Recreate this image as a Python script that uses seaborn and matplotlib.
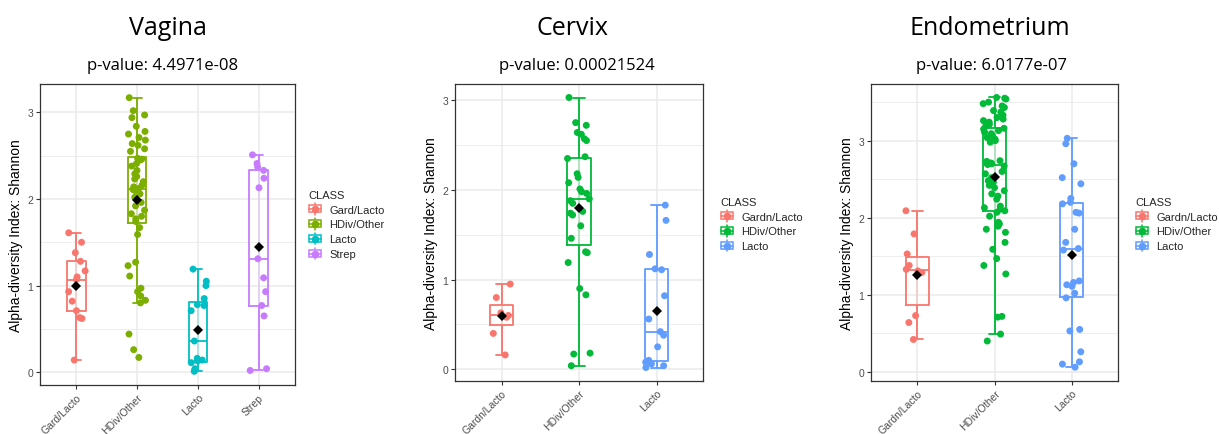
import numpy as np
import pandas as pd
import seaborn as sns
import matplotlib.pyplot as plt
from matplotlib import cbook
from matplotlib.lines import Line2D
from matplotlib.patches import Rectangle
from matplotlib.legend_handler import HandlerBase
from matplotlib.ticker import MultipleLocator

# ---------------- data ----------------
vagina_classes = ["Gard/Lacto", "HDiv/Other", "Lacto", "Strep"]
vagina_gard_lacto = [1.61, 1.50, 1.38, 1.28, 1.17, 1.10, 1.07, 0.93, 0.82, 0.71, 0.63, 0.62, 0.14]
vagina_hdiv_other = [3.17, 3.02, 2.97, 2.94, 2.84, 2.78, 2.75, 2.71, 2.68, 2.64, 2.62, 2.58, 2.55,
                     2.47, 2.46, 2.45, 2.41, 2.38, 2.33, 2.29, 2.26, 2.23, 2.20, 2.16, 2.14, 2.12,
                     2.11, 2.10, 2.10, 2.06, 2.02, 2.00, 1.96, 1.92, 1.87, 1.83, 1.80, 1.77, 1.74,
                     1.67, 1.59, 1.27, 1.23, 1.11, 0.97, 0.93, 0.88, 0.83, 0.80, 0.44, 0.26, 0.17]
vagina_lacto = [1.19, 1.05, 1.00, 0.85, 0.78, 0.77, 0.71, 0.36, 0.16, 0.14, 0.13, 0.11, 0.04, 0.02, 0.01]
vagina_strep = [2.51, 2.41, 2.37, 2.33, 2.24, 2.13, 1.31, 1.09, 0.93, 0.77, 0.65, 0.04, 0.02]
vagina_pvalue = "4.4971e-08"

cervix_classes = ["Gardn/Lacto", "HDiv/Other", "Lacto"]
cervix_gardn_lacto = [0.95, 0.80, 0.63, 0.60, 0.58, 0.40, 0.16]
cervix_hdiv_other = [3.03, 2.75, 2.72, 2.64, 2.62, 2.57, 2.55, 2.37, 2.35, 2.18, 2.14, 2.08, 2.01,
                     1.98, 1.96, 1.90, 1.88, 1.85, 1.76, 1.74, 1.72, 1.60, 1.46, 1.31, 1.30, 1.19,
                     0.90, 0.83, 0.18, 0.17, 0.04]
cervix_lacto = [1.83, 1.66, 1.28, 1.12, 1.11, 0.82, 0.56, 0.42, 0.38, 0.25, 0.10, 0.08, 0.06, 0.04, 0.02]
cervix_pvalue = "0.00021524"

endo_classes = ["Gardn/Lacto", "HDiv/Other", "Lacto"]
endo_gardn_lacto = [2.09, 1.79, 1.53, 1.38, 1.33, 1.31, 1.29, 0.73, 0.64, 0.42]
endo_hdiv_other = [3.56, 3.55, 3.54, 3.50, 3.48, 3.45, 3.43, 3.39, 3.37, 3.33, 3.30, 3.28, 3.26,
                   3.24, 3.21, 3.19, 3.16, 3.15, 3.13, 3.11, 3.09, 3.06, 3.04, 3.02, 3.00, 2.98,
                   2.74, 2.73, 2.72, 2.71, 2.70, 2.69, 2.67, 2.60, 2.57, 2.52, 2.48, 2.46, 2.42,
                   2.39, 2.35, 2.31, 2.28, 2.24, 2.15, 2.13, 2.11, 2.09, 2.07, 2.02, 1.94, 1.92,
                   1.89, 1.85, 1.81, 1.68, 1.59, 1.47, 1.38, 1.27, 0.72, 0.71, 0.49, 0.40]
endo_lacto = [3.03, 2.96, 2.70, 2.52, 2.44, 2.25, 2.20, 2.18, 2.07, 2.06, 1.85, 1.68, 1.60, 1.58,
              1.18, 1.16, 1.13, 1.11, 1.02, 0.96, 0.55, 0.53, 0.26, 0.13, 0.10, 0.06]
endo_pvalue = "6.0177e-07"

hue4 = ["#F8766D", "#7CAE00", "#00BFC4", "#C77CFF"]
hue3 = ["#F8766D", "#00BA38", "#619CFF"]

# ---------------- styling ----------------
sns.set_style("white")
plt.rcParams["font.family"] = ["Liberation Sans", "DejaVu Sans"]

W, H = 1219, 435
fig = plt.figure(figsize=(W / 100, H / 100), dpi=100)


def fig_rect(left, top, right, bottom):
    return [left / W, 1 - bottom / H, (right - left) / W, (bottom - top) / H]


class BoxKey(HandlerBase):
    """Legend key drawn as a miniature boxplot with a jitter point."""

    def create_artists(self, legend, orig_handle, xdescent, ydescent,
                       width, height, fontsize, trans):
        c = orig_handle.get_color()
        x0, y0 = -xdescent, -ydescent
        cx, cy = x0 + width / 2, y0 + height / 2
        bw, bh = width * 0.8, height * 0.6
        stem = Line2D([cx, cx], [y0 + 0.02 * height, y0 + 0.98 * height],
                      color=c, lw=1.1, transform=trans)
        box = Rectangle((cx - bw / 2, cy - bh / 2), bw, bh, facecolor="white",
                        edgecolor=c, lw=1.1, transform=trans)
        med = Line2D([cx - bw / 2, cx + bw / 2], [cy, cy], color=c, lw=1.1,
                     transform=trans)
        dot = Line2D([cx], [cy], marker="o", markersize=4.5, color=c, lw=0,
                     transform=trans)
        return [stem, box, med, dot]


panels = [
    dict(title="Vagina", pvalue=vagina_pvalue, classes=vagina_classes,
         groups=[vagina_gard_lacto, vagina_hdiv_other, vagina_lacto, vagina_strep],
         palette=hue4, rect=(40, 85, 295, 386), title_x=168, pval_x=163,
         legend_xy=(308, 191)),
    dict(title="Cervix", pvalue=cervix_pvalue, classes=cervix_classes,
         groups=[cervix_gardn_lacto, cervix_hdiv_other, cervix_lacto],
         palette=hue3, rect=(455, 85, 703, 382), title_x=573, pval_x=577,
         legend_xy=(720, 198)),
    dict(title="Endometrium", pvalue=endo_pvalue, classes=endo_classes,
         groups=[endo_gardn_lacto, endo_hdiv_other, endo_lacto],
         palette=hue3, rect=(871, 85, 1118, 381.7), title_x=990, pval_x=991,
         legend_xy=(1135, 198)),
]

np.random.seed(7)

for p in panels:
    ax = fig.add_axes(fig_rect(*p["rect"]))
    classes, pal = p["classes"], p["palette"]
    df = pd.DataFrame({
        "CLASS": np.repeat(classes, [len(g) for g in p["groups"]]),
        "Shannon": np.concatenate(p["groups"]),
    })

    # full whisker range line, seen faintly through the box
    stats = [cbook.boxplot_stats(np.asarray(g))[0] for g in p["groups"]]
    ax.vlines(range(len(classes)), [s["whislo"] for s in stats],
              [s["whishi"] for s in stats], colors=pal, alpha=0.3, lw=1.2, zorder=1.5)

    sns.boxplot(data=df, x="CLASS", y="Shannon", hue="CLASS", order=classes,
                hue_order=classes, palette=pal, fill=False, width=0.3,
                showfliers=False, linewidth=1.3, legend=False, ax=ax)
    sns.stripplot(data=df, x="CLASS", y="Shannon", hue="CLASS", order=classes,
                  hue_order=classes, palette=pal, jitter=0.15, size=5,
                  linewidth=0, legend=False, ax=ax, zorder=3)
    sns.pointplot(data=df, x="CLASS", y="Shannon", order=classes,
                  estimator="mean", errorbar=None, color="black", marker="D",
                  linestyle="none", markersize=5.5, markeredgewidth=0, ax=ax,
                  zorder=4)

    vals = df["Shannon"]
    span = vals.max() - vals.min()
    ax.set_ylim(vals.min() - 0.05 * span, vals.max() + 0.05 * span)
    ax.set_xlim(-0.6, len(classes) - 0.4)
    ax.set_yticks([0, 1, 2, 3])
    ax.yaxis.set_minor_locator(MultipleLocator(0.5))
    ax.set_axisbelow(True)
    ax.grid(which="major", color="#EBEBEB", lw=1.1)
    ax.grid(which="minor", axis="y", color="#EBEBEB", lw=0.6)
    for s in ax.spines.values():
        s.set_visible(True)
        s.set_color("#333333")
        s.set_linewidth(0.9)
    ax.tick_params(axis="both", which="major", length=3, width=0.8,
                   color="#333333", labelcolor="#4D4D4D", labelsize=7.5, pad=2,
                   bottom=True, left=True)
    ax.tick_params(axis="y", which="minor", length=0)
    ax.set_xlabel("")
    ax.set_ylabel("Alpha-diversity Index: Shannon", fontsize=10, color="black", labelpad=3)
    for lab in ax.get_xticklabels():
        lab.set_rotation(45)
        lab.set_ha("right")
        lab.set_va("top")
        lab.set_rotation_mode("anchor")

    handles = [Line2D([], [], color=c) for c in pal]
    lx, ly = p["legend_xy"]
    ax.legend(handles, classes, title="CLASS", handler_map={Line2D: BoxKey()},
              loc="upper left", bbox_to_anchor=(lx / W, 1 - ly / H),
              bbox_transform=fig.transFigure, frameon=False, fontsize=8,
              title_fontsize=8, alignment="left", handlelength=1.3,
              handleheight=1.3, handletextpad=0.6, labelspacing=0.25,
              borderpad=0, borderaxespad=0)

    fig.text(p["title_x"] / W, 1 - 35 / H, p["title"], ha="center", color="black",
             va="baseline", fontsize=18, family=["Open Sans", "DejaVu Sans"])
    fig.text(p["pval_x"] / W, 1 - 70 / H, "p-value: " + p["pvalue"], ha="center",
             color="black", va="baseline", fontsize=12,
             family=["Open Sans", "DejaVu Sans"])

fig.savefig("out.png", dpi=100)
